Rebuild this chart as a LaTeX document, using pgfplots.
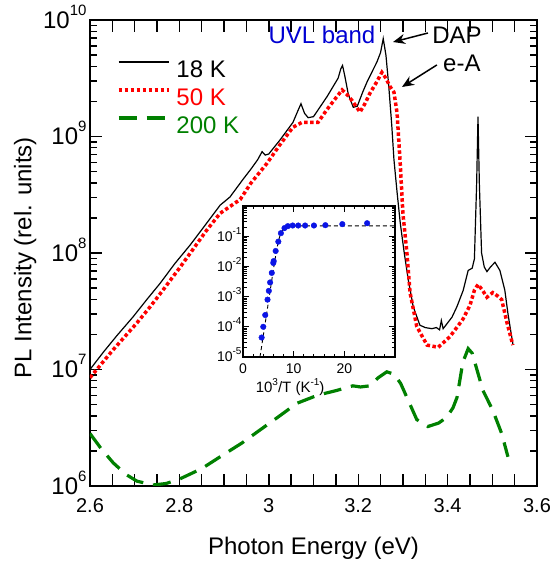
\documentclass[border=0pt]{standalone}
\usepackage{fontspec}
\setmainfont{Liberation Sans}
\usepackage{pgfplots}
\pgfplotsset{compat=1.18}
\usetikzlibrary{arrows.meta}
\definecolor{myred}{RGB}{255,0,0}
\definecolor{mygreen}{RGB}{0,128,0}
\definecolor{myblue}{RGB}{0,0,210}
\definecolor{dotblue}{RGB}{10,20,230}
\newcommand\supA[1]{\raisebox{13bp}[0pt][0pt]{\fontsize{15bp}{15bp}\selectfont #1}}
\newcommand\supB[1]{\raisebox{7bp}[0pt][0pt]{\fontsize{10bp}{10bp}\selectfont #1}}
\begin{document}
\begin{tikzpicture}
\useasboundingbox (-90bp,-77bp) rectangle (465bp,486bp);
\begin{axis}[
  at={(0,0)}, anchor=south west,
  scale only axis, width=447bp, height=466bp,
  xmin=2.6, xmax=3.6, ymode=log, ymin=1e6, ymax=1e10,
  xtick={2.6,2.65,2.7,2.75,2.8,2.85,2.9,2.95,3.0,3.05,3.1,3.15,3.2,3.25,3.3,3.35,3.4,3.45,3.5,3.55,3.6},
  xticklabels={2.6,,,,2.8,,,,3,,,,3.2,,,,3.4,,,,3.6},
  ytick={1e6,1e7,1e8,1e9,1e10},
  yticklabels={10\supA{6},10\supA{7},10\supA{8},10\supA{9},10\supA{10}},
  extra y ticks={2e6,3e6,4e6,5e6,6e6,7e6,8e6,9e6,2e7,3e7,4e7,5e7,6e7,7e7,8e7,9e7,2e8,3e8,4e8,5e8,6e8,7e8,8e8,9e8,2e9,3e9,4e9,5e9,6e9,7e9,8e9,9e9},
  extra y tick labels={},
  extra y tick style={major tick length=7bp},
  /pgf/number format/assume math mode=true,
  tick align=inside,
  major tick length=12bp, minor tick length=7bp,
  tick style={line width=1.4bp, black},
  axis line style={line width=1.6bp},
  xticklabel style={font=\fontsize{20bp}{20bp}\selectfont, yshift=-9bp},
  yticklabel style={font=\fontsize{24bp}{24bp}\selectfont},
  xlabel={Photon Energy (eV)},
  ylabel={PL Intensity (rel. units)},
  label style={font=\fontsize{24bp}{28bp}\selectfont},
  xlabel style={at={(axis description cs:0.5,-0.148)}, anchor=base},
  ylabel style={at={(axis description cs:-0.131,0.49)}, anchor=base},
  legend style={at={(rel axis cs:0.0604,0.914)}, anchor=north west, draw=none, fill=none,
    inner sep=0pt, outer sep=0pt, font=\fontsize{24bp}{28bp}\selectfont,
    row sep=6bp, column sep=6bp,
    nodes={inner sep=0pt, text height=17bp, text depth=5bp}},
  legend cell align=left,
  legend image code/.code={\draw[#1] (0bp,9bp) -- (50bp,9bp);},
]
\addplot[black, line width=1.2bp] coordinates {
(2.600,1.00e7) (2.630,1.41e7) (2.660,1.95e7) (2.696,2.82e7) (2.727,3.98e7)
(2.757,5.50e7) (2.790,8.13e7) (2.824,1.17e8) (2.858,1.74e8) (2.891,2.57e8)
(2.913,3.02e8) (2.942,4.27e8) (2.960,5.25e8) (2.975,6.31e8) (2.985,7.41e8)
(2.992,6.92e8) (3.000,7.08e8) (3.025,9.33e8) (3.054,1.32e9) (3.065,1.66e9)
(3.072,1.91e9) (3.080,1.58e9) (3.088,1.45e9) (3.100,1.48e9) (3.130,2.19e9)
(3.155,3.16e9) (3.161,3.80e9) (3.165,4.07e9) (3.170,3.31e9) (3.178,2.29e9)
(3.189,1.78e9) (3.198,1.82e9) (3.210,2.40e9) (3.220,2.95e9) (3.242,4.37e9)
(3.250,5.25e9) (3.256,6.92e9) (3.262,5.01e9) (3.268,2.82e9) (3.275,1.26e9)
(3.280,6.31e8) (3.287,3.31e8) (3.294,1.82e8) (3.303,1.00e8) (3.312,5.89e7)
(3.323,3.47e7) (3.338,2.40e7) (3.350,2.29e7) (3.365,2.24e7) (3.375,2.29e7)
(3.382,2.19e7) (3.386,2.63e7) (3.390,2.24e7) (3.400,2.51e7) (3.410,2.82e7)
(3.421,3.47e7) (3.435,4.79e7) (3.446,7.08e7) (3.455,7.41e7) (3.460,8.91e7)
(3.465,3.98e8) (3.468,1.48e9) (3.471,3.98e8) (3.476,1.00e8) (3.482,7.59e7)
(3.488,6.92e7) (3.496,7.59e7) (3.506,8.32e7) (3.517,7.08e7) (3.528,4.79e7)
(3.535,3.02e7) (3.540,2.29e7) (3.546,1.66e7)
};
\addlegendentry{18 K}
\addplot[myred, line width=3.5bp, dash pattern=on 3.5bp off 2.5bp] coordinates {
(2.600,8.51e6) (2.650,1.45e7) (2.705,2.51e7) (2.735,3.47e7) (2.763,4.79e7)
(2.800,7.41e7) (2.830,1.07e8) (2.860,1.55e8) (2.891,2.19e8) (2.936,2.88e8)
(2.960,3.98e8) (2.996,5.89e8) (3.025,8.51e8) (3.054,1.20e9) (3.074,1.32e9)
(3.095,1.32e9) (3.110,1.32e9) (3.130,1.70e9) (3.150,2.14e9) (3.164,2.51e9)
(3.175,2.29e9) (3.186,2.04e9) (3.204,1.62e9) (3.215,1.91e9) (3.226,2.34e9)
(3.240,2.88e9) (3.253,3.55e9) (3.262,3.16e9) (3.271,2.69e9) (3.280,2.40e9)
(3.287,1.58e9) (3.294,5.89e8) (3.300,2.19e8) (3.309,1.00e8) (3.316,4.57e7)
(3.331,2.34e7) (3.354,1.62e7) (3.379,1.55e7) (3.405,1.91e7) (3.434,2.69e7)
(3.450,3.55e7) (3.460,4.79e7) (3.468,5.37e7) (3.478,4.79e7) (3.488,4.17e7)
(3.501,4.57e7) (3.512,4.27e7) (3.521,3.98e7) (3.533,2.51e7) (3.546,1.62e7)
};
\addlegendentry{\textcolor{myred}{50 K}}
\addplot[mygreen, line width=3.2bp, dash pattern=on 18bp off 10bp] coordinates {
(2.600,2.82e6) (2.625,2.09e6) (2.652,1.58e6) (2.680,1.26e6) (2.705,1.10e6)
(2.741,1.02e6) (2.770,1.05e6) (2.801,1.15e6) (2.850,1.41e6) (2.891,1.78e6)
(2.940,2.34e6) (2.980,3.02e6) (3.020,3.89e6) (3.063,5.13e6) (3.110,6.03e6)
(3.152,6.61e6) (3.188,7.24e6) (3.205,7.08e6) (3.226,7.24e6) (3.245,8.51e6)
(3.264,9.55e6) (3.280,9.12e6) (3.295,7.59e6) (3.309,5.75e6) (3.331,3.72e6)
(3.356,3.24e6) (3.380,3.47e6) (3.398,3.89e6) (3.412,4.68e6) (3.421,5.75e6)
(3.434,1.15e7) (3.446,1.51e7) (3.455,1.38e7) (3.461,1.15e7) (3.479,6.61e6)
(3.501,4.47e6) (3.521,2.82e6) (3.535,1.78e6)
};
\addlegendentry{\textcolor{mygreen}{200 K}}
\node[myblue, font=\fontsize{24bp}{24bp}\selectfont] at (axis cs:3.119,7.43e9) {UVL band};
\node[font=\fontsize{24bp}{24bp}\selectfont] at (axis cs:3.421,7.43e9) {DAP};
\node[font=\fontsize{24bp}{24bp}\selectfont] at (axis cs:3.432,4.28e9) {e-A};
\draw[-{Stealth[length=12bp,width=10bp]}, line width=1.5bp] (axis cs:3.356,7.73e9) -- (axis cs:3.278,6.47e9);
\draw[-{Stealth[length=12bp,width=10bp]}, line width=1.5bp] (axis cs:3.376,4.11e9) -- (axis cs:3.298,2.66e9);
\end{axis}
\begin{axis}[
  at={(153bp,129bp)}, anchor=south west,
  scale only axis, width=152bp, height=151bp,
  xmin=0, xmax=30, ymode=log, ymin=1e-5, ymax=1,
  xtick={0,10,20,30}, xticklabels={0,10,20,},
  minor x tick num=4,
  ytick={1e-5,1e-4,1e-3,1e-2,1e-1,1},
  yticklabels={10\supB{-5},10\supB{-4},10\supB{-3},10\supB{-2},10\supB{-1},},
  extra y ticks={2e-5,3e-5,4e-5,5e-5,6e-5,7e-5,8e-5,9e-5,2e-4,3e-4,4e-4,5e-4,6e-4,7e-4,8e-4,9e-4,2e-3,3e-3,4e-3,5e-3,6e-3,7e-3,8e-3,9e-3,2e-2,3e-2,4e-2,5e-2,6e-2,7e-2,8e-2,9e-2,0.2,0.3,0.4,0.5,0.6,0.7,0.8,0.9},
  extra y tick labels={},
  extra y tick style={major tick length=3.5bp},
  /pgf/number format/assume math mode=true,
  axis background/.style={fill=white},
  tick align=inside,
  major tick length=6bp, minor tick length=3.5bp,
  tick style={line width=0.9bp, black},
  axis line style={line width=1.1bp},
  xticklabel style={font=\fontsize{14bp}{14bp}\selectfont, yshift=-3bp},
  yticklabel style={font=\fontsize{14bp}{14bp}\selectfont, xshift=2bp},
  xlabel={10\supB{3}/T (K\supB{-1})},
  xlabel style={font=\fontsize{15bp}{15bp}\selectfont, at={(axis description cs:0.31,-0.232)}, anchor=base},
]
\addplot[black, line width=0.9bp, dash pattern=on 4bp off 3bp] coordinates {
(3.35,1.0e-5) (4.0,5.0e-5) (5.0,6.3e-4) (6.0,7.9e-3) (6.5,2.6e-2) (7.0,7.1e-2)
(7.5,0.132) (8.0,0.178) (8.5,0.204) (9.0,0.214) (10.0,0.219) (30.0,0.221)
};
\addplot[only marks, mark=*, mark size=2.8bp, dotblue, mark options={draw=dotblue, fill=dotblue}] coordinates {
(3.68,4.42e-5) (4.0,1.0e-4) (4.39,2.45e-4) (4.84,7.94e-4) (5.1,1.55e-3)
(5.35,2.95e-3) (5.68,6.10e-3) (5.98,1.30e-2) (6.06,1.50e-2) (6.45,3.24e-2)
(6.97,6.61e-2) (7.48,0.126) (8.19,0.186) (8.84,0.215) (9.8,0.226)
(10.9,0.226) (12.26,0.226) (14.0,0.226) (16.26,0.232) (19.6,0.251) (24.5,0.269)
};
\node[font=\fontsize{24bp}{24bp}\selectfont] at (axis description cs:-0.303,0.457) {$\eta$};
\end{axis}
\end{tikzpicture}
\end{document}
